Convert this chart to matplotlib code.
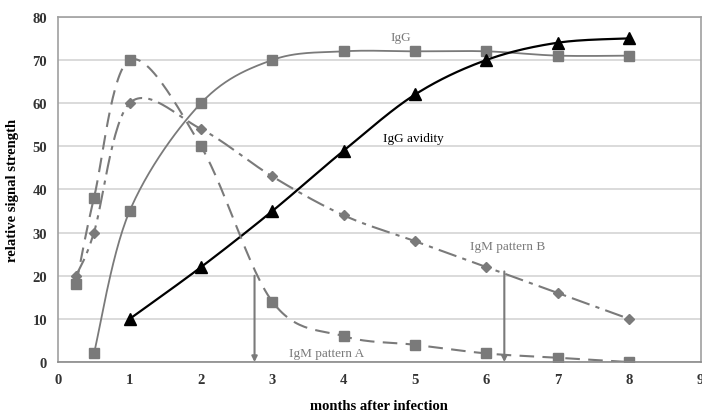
import matplotlib
matplotlib.use('Agg')

import numpy as np
import matplotlib.pyplot as plt

# data
igg_x = [0.5, 1, 2, 3, 4, 5, 6, 7, 8]
igg_y = [2, 35, 60, 70, 72, 72, 72, 71, 71]

avid_x = [1, 2, 3, 4, 5, 6, 7, 8]
avid_y = [10, 22, 35, 49, 62, 70, 74, 75]

igma_x = [0.25, 0.5, 1, 2, 3, 4, 5, 6, 7, 8]
igma_y = [18, 38, 70, 50, 14, 6, 4, 2, 1, 0]

igmb_x = [0.25, 0.5, 1, 2, 3, 4, 5, 6, 7, 8]
igmb_y = [20, 30, 60, 54, 43, 34, 28, 22, 16, 10]

arrow_x = [2.75, 6.25]
arrow_top = [20, 21]


def smooth(xs, ys, n=30):
	# excel-like smoothed line (catmull-rom as cubic bezier)
	p = np.column_stack([xs, ys]).astype(float)
	out = []
	for i in range(len(p) - 1):
		p0 = p[i - 1] if i > 0 else p[i]
		p1 = p[i]
		p2 = p[i + 1]
		p3 = p[i + 2] if i + 2 < len(p) else p[i + 1]
		c1 = p1 + (p2 - p0) / 6.0
		c2 = p2 - (p3 - p1) / 6.0
		t = np.linspace(0, 1, n)[:, None]
		seg = ((1 - t) ** 3) * p1 + 3 * ((1 - t) ** 2) * t * c1 + 3 * (1 - t) * t ** 2 * c2 + t ** 3 * p2
		out.append(seg if i == 0 else seg[1:])
	s = np.vstack(out)
	return s[:, 0], s[:, 1]


plt.rcParams['font.family'] = ['Liberation Serif', 'DejaVu Serif']

fig = plt.figure(figsize=(7.02, 4.14), dpi=100)
ax = fig.add_axes([0.083, 0.123, 0.915, 0.834])

grey = '#7a7a7a'

sx, sy = smooth(igg_x, igg_y)
ax.plot(sx, sy, color=grey, lw=1.3)
ax.plot(igg_x, igg_y, ls='none', marker='s', ms=6.5, color=grey)

sx, sy = smooth(avid_x, avid_y)
ax.plot(sx, sy, color='black', lw=1.6)
ax.plot(avid_x, avid_y, ls='none', marker='^', ms=8, color='black')

sx, sy = smooth(igma_x, igma_y)
ax.plot(sx, sy, color=grey, lw=1.5, dashes=(7, 4))
ax.plot(igma_x, igma_y, ls='none', marker='s', ms=6.5, color=grey)

sx, sy = smooth(igmb_x, igmb_y)
ax.plot(sx, sy, color=grey, lw=1.5, dashes=(9, 3, 2, 3))
ax.plot(igmb_x, igmb_y, ls='none', marker='D', ms=5, color=grey)

for x, top in zip(arrow_x, arrow_top):
	ax.annotate('', xy=(x, 0), xytext=(x, top),
		arrowprops=dict(arrowstyle='-|>', color=grey, lw=1.5, mutation_scale=8,
			shrinkA=0, shrinkB=0))

ax.text(4.8, 75.3, 'IgG', color=grey, fontsize=9.5, ha='center', va='center')
ax.text(4.97, 52, 'IgG avidity', color='black', fontsize=9.5, ha='center', va='center')
ax.text(6.3, 26.8, 'IgM pattern B', color=grey, fontsize=9.5, ha='center', va='center')
ax.text(3.76, 2.0, 'IgM pattern A', color=grey, fontsize=9.5, ha='center', va='center')

ax.set_xlim(0, 9)
ax.set_ylim(0, 80)
ax.set_xticks(range(0, 10))
ax.set_yticks(range(0, 90, 10))
ax.yaxis.grid(True, color='#d4d4d4', lw=1.2)
ax.set_axisbelow(True)
for s in ax.spines.values():
	s.set_color('#a0a0a0')
	s.set_linewidth(1.2)
ax.spines['bottom'].set_color('#8a8a8a')
ax.tick_params(length=0, labelsize=10.5, colors='#333333', pad=8)
for lab in ax.get_xticklabels() + ax.get_yticklabels():
	lab.set_fontweight('bold')

ax.set_xlabel('months after infection', fontsize=10.5, fontweight='bold', labelpad=9)
ax.set_ylabel('relative signal strength', fontsize=10.5, fontweight='bold', labelpad=10)

plt.savefig('out.png', dpi=100)
